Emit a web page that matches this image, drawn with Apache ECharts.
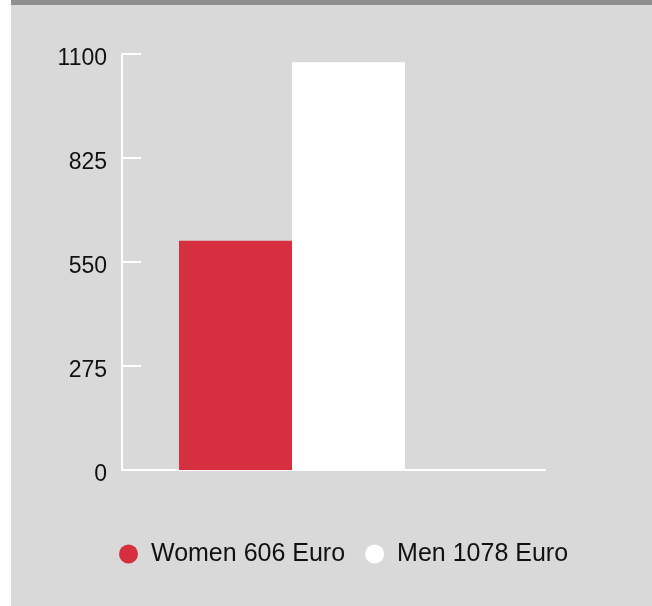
<!DOCTYPE html>
<html>
<head>
<meta charset="utf-8">
<script src="https://cdn.jsdelivr.net/npm/echarts@6/dist/echarts.min.js"></script>
<style>
html,body{margin:0;padding:0;background:#ffffff;}
#chart{position:absolute;left:0;top:0;width:652px;height:606px;}
</style>
</head>
<body>
<div id="chart"></div>
<script>
const categories = ['Income'];
const seriesNames = ['Women 606 Euro', 'Men 1078 Euro'];
const womenValues = [606];
const menValues = [1078];
const yTicks = [0, 275, 550, 825, 1100];

const chart = echarts.init(document.getElementById('chart'), null, {renderer: 'canvas'});
const FONT = '"Liberation Sans", Arial, Helvetica, sans-serif';

chart.setOption({
  backgroundColor: '#d9d9d9',
  animation: false,
  graphic: [
    {type: 'rect', left: 0, top: 0, z: -10, shape: {width: 11, height: 606}, style: {fill: '#ffffff'}},
    {type: 'rect', left: 11, top: 0, z: -10, shape: {width: 641, height: 5}, style: {fill: '#8f8f8f'}}
  ],
  grid: [
    {left: 122, right: 107, top: 54, bottom: 136},
    {left: 179, width: 226, top: 54, bottom: 136}
  ],
  legend: {
    left: 119,
    top: 541,
    padding: 0,
    icon: 'circle',
    itemWidth: 19,
    itemHeight: 19,
    itemGap: 20,
    data: seriesNames,
    textStyle: {fontFamily: FONT, fontSize: 25, color: '#111111', padding: [0, 0, 0, 8], lineHeight: 26}
  },
  xAxis: [
    {
      type: 'category', gridIndex: 0, data: categories,
      axisLine: {show: true, lineStyle: {color: '#ffffff', width: 2}},
      axisTick: {show: false}, axisLabel: {show: false}, splitLine: {show: false}
    },
    {
      type: 'category', gridIndex: 1, data: categories, show: false
    }
  ],
  yAxis: [
    {
      type: 'value', gridIndex: 0, min: 0, max: 1100, interval: 275,
      axisLine: {show: true, lineStyle: {color: '#ffffff', width: 2}},
      axisTick: {show: true, inside: true, length: 19, lineStyle: {color: '#ffffff', width: 2}},
      splitLine: {show: false},
      axisLabel: {
        margin: 15, fontFamily: FONT, fontSize: 23, color: '#111111',
        verticalAlign: 'top', lineHeight: 10,
        formatter: function (v) { return yTicks.indexOf(v) >= 0 ? String(v) : ''; }
      }
    },
    {
      type: 'value', gridIndex: 1, min: 0, max: 1100, interval: 275, show: false
    }
  ],
  series: [
    {
      name: seriesNames[0], type: 'bar', xAxisIndex: 1, yAxisIndex: 1,
      data: womenValues, barWidth: 113, barGap: '0%',
      itemStyle: {color: '#d62f3f'}
    },
    {
      name: seriesNames[1], type: 'bar', xAxisIndex: 1, yAxisIndex: 1,
      data: menValues, barWidth: 113, barGap: '0%',
      itemStyle: {color: '#ffffff'}
    }
  ]
});
</script>
</body>
</html>
